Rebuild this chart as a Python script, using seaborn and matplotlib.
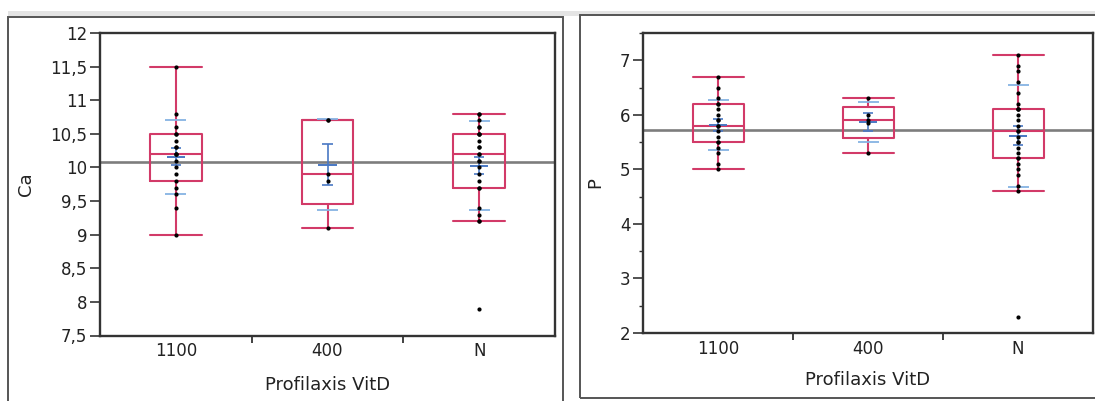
import numpy as np
import pandas as pd
import matplotlib
matplotlib.use("Agg")
import matplotlib.pyplot as plt
from matplotlib.patches import Rectangle
from matplotlib.ticker import FixedLocator, FuncFormatter, NullFormatter
import seaborn as sns

# ---- data -------------------------------------------------------------
groups = ["1100", "400", "N"]

ca_1100 = [9.0, 9.4, 9.6, 9.7, 9.8, 9.9, 10.0, 10.1, 10.2, 10.2,
           10.2, 10.3, 10.3, 10.4, 10.5, 10.5, 10.6, 10.8, 11.5]
ca_400 = [9.1, 9.8, 9.9, 10.7, 10.7]
ca_n = [7.9, 9.2, 9.2, 9.3, 9.4, 9.7, 9.7, 9.8, 9.9, 10.0, 10.1, 10.1, 10.2,
        10.2, 10.3, 10.3, 10.4, 10.5, 10.5, 10.5, 10.6, 10.6, 10.7, 10.8, 10.8]

p_1100 = [5.0, 5.1, 5.3, 5.4, 5.5, 5.5, 5.6, 5.7, 5.8, 5.8,
          5.9, 5.9, 6.0, 6.1, 6.2, 6.2, 6.3, 6.5, 6.7]
p_400 = [5.3, 5.85, 5.9, 6.0, 6.3]
p_n = [2.3, 4.6, 4.7, 4.9, 5.0, 5.1, 5.2, 5.2, 5.3, 5.4, 5.5, 5.5, 5.6, 5.7,
       5.7, 5.8, 5.9, 6.0, 6.1, 6.1, 6.1, 6.2, 6.4, 6.6, 6.8, 6.9, 7.1]

x_title = "Profilaxis VitD"
ca_title = "Ca"
p_title = "P"
ca_ticks = [7.5, 8, 8.5, 9, 9.5, 10, 10.5, 11, 11.5, 12]
p_ticks = [2, 3, 4, 5, 6, 7]
p_minor_ticks = [2.5, 3.5, 4.5, 5.5, 6.5, 7.5]

# ---- style ------------------------------------------------------------
sns.set_theme(style="white")
plt.rcParams["font.family"] = ["DejaVu Sans"]

BOX_RED = "#d23a68"
MEAN_GRAY = "#7d7d7d"
SD_BLUE = "#86b3e3"
SE_BLUE = "#4978c4"
TEXT = "#222222"
SPINE = "#333333"

W, H = 1095, 401
fig = plt.figure(figsize=(W / 100, H / 100), dpi=100)
fig.patch.set_facecolor("white")


def box_stats(values, label):
    v = np.sort(np.asarray(values, dtype=float))
    q1, med, q3 = np.percentile(v, [25, 50, 75], method="weibull")
    iqr = q3 - q1
    lo = v[v >= q1 - 1.5 * iqr].min()
    hi = v[v <= q3 + 1.5 * iqr].max()
    return dict(med=med, q1=q1, q3=q3, whislo=lo, whishi=hi,
                fliers=[], label=label)


def draw_panel(ax, series, ylabel, ylim):
    df = pd.DataFrame({
        "group": np.repeat(groups, [len(s) for s in series]),
        "value": np.concatenate([np.asarray(s, float) for s in series]),
    })

    # grand mean across all groups
    ax.axhline(df["value"].mean(), color=MEAN_GRAY, lw=1.9, zorder=1)

    stats = [box_stats(s, g) for s, g in zip(series, groups)]
    line = dict(color=BOX_RED, lw=1.5)
    ax.bxp(stats, positions=[0, 1, 2], widths=0.34, capwidths=0.34,
           showfliers=False, manage_ticks=False,
           boxprops=line, medianprops=line, whiskerprops=line, capprops=line,
           zorder=2)

    # group means, mean error bars and std-dev lines
    for i, s in enumerate(series):
        s = np.asarray(s, float)
        m = s.mean()
        sd = s.std(ddof=1)
        se = sd / np.sqrt(len(s))
        ax.hlines([m - sd, m + sd], i - 0.07, i + 0.07, color=SD_BLUE,
                  lw=1.3, zorder=3)
        ax.vlines(i, m - se, m + se, color=SE_BLUE, lw=1.2, zorder=3)
        ax.hlines([m - se, m + se], i - 0.035, i + 0.035, color=SE_BLUE,
                  lw=1.2, zorder=3)
        ax.hlines(m, i - 0.06, i + 0.06, color=SE_BLUE, lw=1.4, zorder=3)

    sns.stripplot(data=df, x="group", y="value", order=groups, jitter=False,
                  color="black", size=3.0, linewidth=0, ax=ax, zorder=4)

    ax.set_xlim(-0.5, 2.5)
    ax.set_ylim(*ylim)

    ax.set_xticks([0, 1, 2])
    ax.set_xticklabels(groups)
    ax.xaxis.set_minor_locator(FixedLocator([0.5, 1.5]))
    ax.tick_params(axis="x", which="major", length=0, pad=5,
                   labelsize=12, labelcolor=TEXT)
    ax.tick_params(axis="x", which="minor", length=5, width=1.3,
                   direction="out", color=SPINE, bottom=True)
    ax.tick_params(axis="y", which="major", length=7, width=1.2,
                   direction="out", color=SPINE, left=True, pad=2,
                   labelsize=12, labelcolor=TEXT)

    for sp in ax.spines.values():
        sp.set_visible(True)
        sp.set_color(SPINE)
        sp.set_linewidth(1.7)

    ax.set_xlabel(x_title, fontsize=13, color=TEXT)
    ax.set_ylabel(ylabel, fontsize=13, color=TEXT)
    ax.set_facecolor("white")


comma = FuncFormatter(lambda v, _: f"{v:g}".replace(".", ","))

# ---- left panel: Ca ----------------------------------------------------
ax1 = fig.add_axes([100 / W, 1 - 335.5 / H, 455 / W, 302.5 / H])
draw_panel(ax1, [ca_1100, ca_400, ca_n], ca_title, (7.5, 12))
ax1.yaxis.set_major_locator(FixedLocator(ca_ticks))
ax1.yaxis.set_major_formatter(comma)
ax1.xaxis.set_label_coords(0.5, -0.134)
ax1.yaxis.set_label_coords(-0.143, 0.5)

# ---- right panel: P ----------------------------------------------------
ax2 = fig.add_axes([643 / W, 1 - 333 / H, 450 / W, 300 / H])
draw_panel(ax2, [p_1100, p_400, p_n], p_title, (2, 7.5))
ax2.yaxis.set_major_locator(FixedLocator(p_ticks))
ax2.yaxis.set_minor_locator(FixedLocator(p_minor_ticks))
ax2.yaxis.set_major_formatter(comma)
ax2.yaxis.set_minor_formatter(NullFormatter())
ax2.tick_params(axis="y", which="minor", length=3, width=1.0,
                direction="out", color=SPINE, left=True)
ax2.xaxis.set_label_coords(0.5, -0.127)
ax2.yaxis.set_label_coords(-0.085, 0.5)

# ---- report frames around each panel -----------------------------------
fig.add_artist(Rectangle((8 / W, 1 - 16 / H), 1 - 8 / W, 5 / H,
                         transform=fig.transFigure, facecolor="#e4e4e4",
                         edgecolor="none", zorder=0))
fig.add_artist(Rectangle((8 / W, -0.05), (563 - 8) / W, 1.05 - 17 / H,
                         transform=fig.transFigure, facecolor="none",
                         edgecolor="#555555", lw=1.4, zorder=1))
fig.add_artist(Rectangle((580 / W, 1 - 398 / H), (1110 - 580) / W,
                         (398 - 15) / H, transform=fig.transFigure,
                         facecolor="none", edgecolor="#555555", lw=1.4,
                         zorder=1))

fig.savefig("out.png", dpi=100, facecolor="white")
